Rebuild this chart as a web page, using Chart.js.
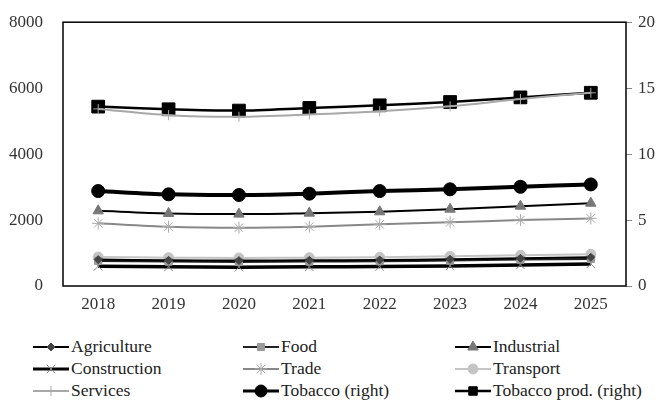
<!DOCTYPE html>
<html>
<head>
<meta charset="utf-8">
<script src="https://cdn.jsdelivr.net/npm/chart.js@4.4.1/dist/chart.umd.min.js"></script>
<style>
    body { margin: 0; background: #fff; }
    #wrap { position: relative; width: 662px; height: 402px; }
    #legend { position: absolute; left: 0; top: 336px; width: 662px; }
    .item { position: absolute; display: flex; align-items: center; font-family: "Liberation Serif", "Times New Roman", "DejaVu Serif", serif; font-size: 17.5px; color: #222; white-space: nowrap; }
    .item canvas { margin-right: 2px; }
</style>
</head>
<body>
<div id="wrap">
    <canvas id="chart" width="662" height="325"></canvas>
    <div id="legend"></div>
</div>
<script>
// Years on the x axis
const years = ['2018', '2019', '2020', '2021', '2022', '2023', '2024', '2025'];

// Left axis series
const agriculture = [800, 780, 770, 780, 790, 810, 840, 870];
const food = [760, 740, 730, 740, 750, 770, 800, 820];
const industrial = [2280, 2200, 2180, 2210, 2250, 2330, 2420, 2510];
const construction = [600, 580, 570, 580, 590, 610, 640, 670];
const trade = [1900, 1800, 1770, 1800, 1870, 1930, 2000, 2050];
const transport = [880, 860, 850, 860, 870, 900, 930, 960];
const services = [5370, 5180, 5130, 5200, 5300, 5450, 5670, 5860];

// Right axis series
const tobacco = [7.2, 6.95, 6.9, 7.0, 7.2, 7.33, 7.52, 7.7];
const tobaccoProd = [13.6, 13.4, 13.3, 13.5, 13.7, 13.95, 14.3, 14.65];

// Axis ticks
const leftTicks = [0, 2000, 4000, 6000, 8000];
const rightTicks = [0, 5, 10, 15, 20];

const FONT = { family: '"Liberation Serif", "Times New Roman", "DejaVu Serif", serif', size: 17 };

function series(label, data, opts) {
    return Object.assign({
        label: label,
        data: data,
        yAxisID: 'y',
        borderColor: '#000',
        borderWidth: 2,
        pointBorderWidth: 1,
        pointHoverRadius: 0,
        tension: 0.3,
        fill: false
    }, opts);
}

const datasets = [
    series('Agriculture', agriculture, { pointStyle: 'rectRot', pointRadius: 4, pointBackgroundColor: '#444', pointBorderColor: '#444' }),
    series('Food', food, { borderColor: '#222', pointStyle: 'rect', pointRadius: 5, pointBackgroundColor: '#999', pointBorderColor: '#999' }),
    series('Industrial', industrial, { pointStyle: 'triangle', pointRadius: 6, pointBackgroundColor: '#777', pointBorderColor: '#777' }),
    series('Construction', construction, { borderWidth: 3.5, pointStyle: 'crossRot', pointRadius: 6, pointBorderColor: '#888', pointBackgroundColor: '#888' }),
    series('Trade', trade, { borderColor: '#888', pointStyle: 'star', pointRadius: 6, pointBorderColor: '#aaa', pointBackgroundColor: '#aaa' }),
    series('Transport', transport, { borderColor: '#c4c4c4', pointStyle: 'circle', pointRadius: 5, pointBackgroundColor: '#c4c4c4', pointBorderColor: '#c4c4c4' }),
    series('Services', services, { borderColor: '#a8a8a8', pointStyle: 'cross', pointRadius: 5, pointBorderColor: '#a8a8a8', pointBackgroundColor: '#a8a8a8' }),
    series('Tobacco (right)', tobacco, { yAxisID: 'y1', borderWidth: 4, pointStyle: 'circle', pointRadius: 6.5, pointBackgroundColor: '#000', pointBorderColor: '#000' }),
    series('Tobacco prod. (right)', tobaccoProd, { yAxisID: 'y1', borderWidth: 2.5, pointStyle: 'rect', pointRadius: 9, pointBackgroundColor: '#000', pointBorderColor: '#000' })
];

// Frame around the plot area
const frame = {
    id: 'frame',
    afterDatasetsDraw(chart) {
        const a = chart.chartArea;
        const ctx = chart.ctx;
        ctx.save();
        ctx.strokeStyle = '#000';
        ctx.lineWidth = 1.5;
        ctx.strokeRect(a.left, a.top, a.right - a.left, a.bottom - a.top);
        ctx.restore();
    }
};

new Chart(document.getElementById('chart'), {
    type: 'line',
    data: { labels: years, datasets: datasets },
    options: {
        responsive: false,
        animation: false,
        layout: { padding: { top: 22, left: 0, right: 0, bottom: 0 } },
        plugins: { legend: { display: false }, tooltip: { enabled: false } },
        scales: {
            x: {
                offset: true,
                grid: { display: false },
                border: { display: false },
                ticks: { color: '#333', font: FONT, padding: 0 },
                afterFit(scale) { scale.height = 39; }
            },
            y: {
                position: 'left',
                min: 0, max: 8000,
                afterBuildTicks(scale) { scale.ticks = leftTicks.map(v => ({ value: v })); },
                grid: { display: false },
                border: { display: false },
                ticks: { color: '#333', font: FONT, padding: 12, callback: v => String(v) },
                afterFit(scale) { scale.width = 63; }
            },
            y1: {
                position: 'right',
                min: 0, max: 20,
                afterBuildTicks(scale) { scale.ticks = rightTicks.map(v => ({ value: v })); },
                grid: { drawOnChartArea: false, color: '#888', tickLength: 6 },
                border: { display: false },
                ticks: { color: '#333', font: FONT, padding: 6, callback: v => String(v) },
                afterFit(scale) { scale.width = 36; }
            }
        }
    },
    plugins: [frame]
});

// Legend laid out in three columns like the original
const legend = document.getElementById('legend');
const cols = [33, 243, 455];
datasets.forEach((ds, i) => {
    const item = document.createElement('div');
    item.className = 'item';
    item.style.left = cols[i % 3] + 'px';
    item.style.top = (Math.floor(i / 3) * 22) + 'px';
    const c = document.createElement('canvas');
    c.width = 36; c.height = 20;
    const ctx = c.getContext('2d');
    ctx.strokeStyle = ds.borderColor;
    ctx.lineWidth = Math.min(ds.borderWidth, 3);
    ctx.beginPath();
    ctx.moveTo(0, 10);
    ctx.lineTo(36, 10);
    ctx.stroke();
    ctx.fillStyle = ds.pointBackgroundColor;
    ctx.strokeStyle = ds.pointBorderColor;
    ctx.lineWidth = 1;
    Chart.helpers.drawPoint(ctx, {
        pointStyle: ds.pointStyle,
        radius: Math.min(ds.pointRadius, 6),
        rotation: 0,
        borderWidth: 1
    }, 18, 10);
    item.appendChild(c);
    const t = document.createElement('span');
    t.textContent = ds.label;
    item.appendChild(t);
    legend.appendChild(item);
});
</script>
</body>
</html>
